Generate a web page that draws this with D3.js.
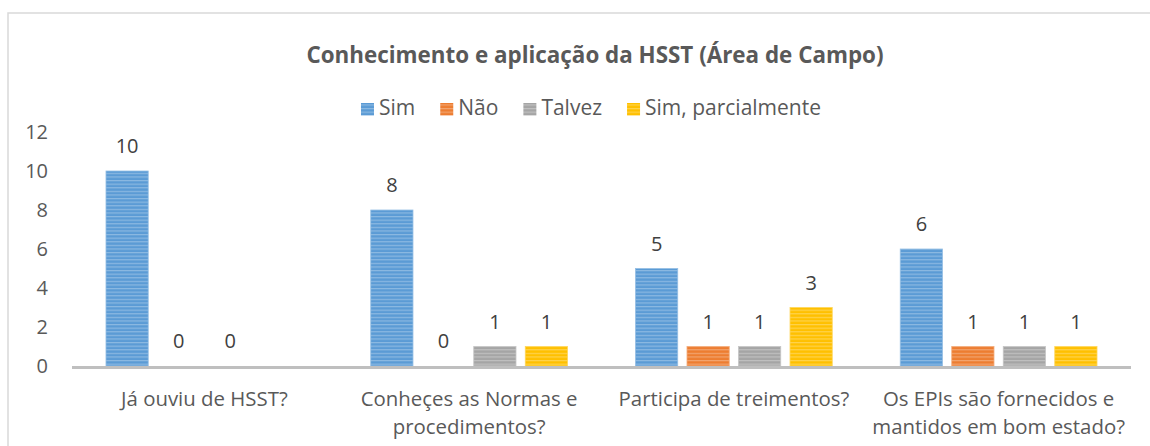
<!DOCTYPE html>
<html>
<head>
<meta charset="utf-8">
<script src="https://cdn.jsdelivr.net/npm/d3@7"></script>
<style>
	body { margin: 0; background: #fff; }
	svg { display: block; }
</style>
</head>
<body>
<div class="chart"></div>
<script>
var categories = ['Já ouviu de HSST?', 'Conheçes as Normas e\nprocedimentos?',
	'Participa de treimentos?', 'Os EPIs são fornecidos e\nmantidos em bom estado?'];
var seriesNames = ['Sim', 'Não', 'Talvez', 'Sim, parcialmente'];
var sim = [10, 8, 5, 6],
	nao = [0, 0, 1, 1],
	talvez = [0, 1, 1, 1],
	simParcial = [null, 1, 3, 1];
var yTicks = [0, 2, 4, 6, 8, 10, 12];
var titleText = 'Conhecimento e aplicação da HSST (Área de Campo)';

var colors = ['#5b9bd5', '#ed7d31', '#a5a5a5', '#ffc000'],
	textColor = '#595959',
	fontFamily = '"Open Sans", sans-serif';
var width = 1150, height = 446;
var series = [sim, nao, talvez, simParcial];

var svg = d3.select('.chart').append('svg')
	.attr('width', width)
	.attr('height', height)
	.attr('font-family', fontFamily)
	.attr('fill', textColor);

// striped fills, one per series
var defs = svg.append('defs');
colors.forEach(function(c, i) {
	var light = d3.interpolateRgb(c, '#ffffff')(0.3);
	var p = defs.append('pattern')
		.attr('id', 'stripe' + i)
		.attr('patternUnits', 'userSpaceOnUse')
		.attr('width', 8)
		.attr('height', 3.6);
	p.append('rect').attr('width', 8).attr('height', 3.6).attr('fill', c);
	p.append('rect').attr('y', 0).attr('width', 8).attr('height', 1.2).attr('fill', light);
});

// outer frame
svg.append('rect')
	.attr('x', 8).attr('y', 13)
	.attr('width', 1300).attr('height', 600)
	.attr('fill', 'none')
	.attr('stroke', '#d9d9d9')
	.attr('stroke-width', 1.5);

var x0 = d3.scaleBand().domain(categories).range([72, 1131]);
var x1 = d3.scaleBand().domain(d3.range(4)).range([0, x0.bandwidth()])
	.paddingInner(0.18).paddingOuter(0.66);
var y = d3.scaleLinear().domain([0, 12]).range([366, 132]);

// title
svg.append('text')
	.attr('x', 595).attr('y', 63)
	.attr('text-anchor', 'middle')
	.attr('font-size', '22.4px')
	.attr('font-weight', 'bold')
	.text(titleText);

// legend, laid out from measured text widths
var legend = svg.append('g');
var lx = 0;
seriesNames.forEach(function(name, i) {
	var g = legend.append('g').attr('transform', 'translate(' + lx + ',0)');
	g.append('rect').attr('x', 0).attr('y', 103).attr('width', 13).attr('height', 12.5)
		.attr('fill', 'url(#stripe' + i + ')');
	var t = g.append('text').attr('x', 18).attr('y', 115)
		.attr('font-size', '21px').text(name);
	lx += 18 + t.node().getComputedTextLength() + 25;
});
var legendWidth = lx - 25;
legend.attr('transform', 'translate(' + (591 - legendWidth / 2) + ',0)');

// y tick labels (no axis line)
svg.append('g').selectAll('text')
	.data(yTicks)
	.join('text')
	.attr('x', 48)
	.attr('y', function(d) { return y(d); })
	.attr('dy', '0.35em')
	.attr('text-anchor', 'end')
	.attr('font-size', '20px')
	.text(function(d) { return d; });

// bars
var groups = svg.append('g').selectAll('g')
	.data(categories)
	.join('g')
	.attr('transform', function(d) { return 'translate(' + x0(d) + ',0)'; });

groups.each(function(cat, ci) {
	var g = d3.select(this);
	series.forEach(function(s, si) {
		var v = s[ci];
		if (v === null) return;
		if (v > 0) {
			g.append('rect')
				.attr('x', x1(si))
				.attr('y', y(v))
				.attr('width', x1.bandwidth())
				.attr('height', y(0) - y(v))
				.attr('fill', 'url(#stripe' + si + ')')
				.attr('stroke', d3.interpolateRgb(colors[si], '#ffffff')(0.35))
				.attr('stroke-width', 0.8);
		}
		g.append('text')
			.attr('x', x1(si) + x1.bandwidth() / 2)
			.attr('y', y(v) - 18)
			.attr('text-anchor', 'middle')
			.attr('font-size', '20px')
			.attr('fill', '#404040')
			.text(v);
	});
});

// x axis line
svg.append('line')
	.attr('x1', 72).attr('x2', 1131)
	.attr('y1', y(0) + 1.5).attr('y2', y(0) + 1.5)
	.attr('stroke', '#bfbfbf')
	.attr('stroke-width', 3);

// category labels
svg.append('g').selectAll('text')
	.data(categories)
	.join('text')
	.attr('x', function(d) { return x0(d) + x0.bandwidth() / 2; })
	.attr('y', 405.5)
	.attr('text-anchor', 'middle')
	.attr('font-size', '20.4px')
	.each(function(d) {
		var t = d3.select(this);
		d.split('\n').forEach(function(line, i) {
			t.append('tspan')
				.attr('x', t.attr('x'))
				.attr('dy', i === 0 ? 0 : 28)
				.text(line);
		});
	});
</script>
</body>
</html>
